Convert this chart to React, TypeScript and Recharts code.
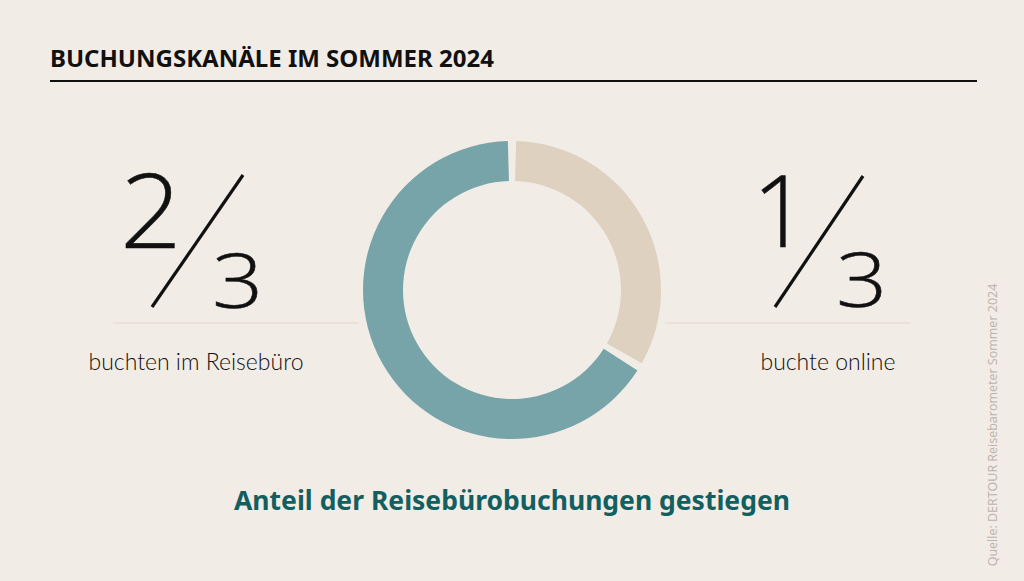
import React from "react";
import { PieChart, Pie, Cell } from "recharts";

const categories = ["buchte online", "buchten im Reisebüro"];
const shareThirds = [1, 2];
const colors = ["#dfd1bf", "#77a4a9"];
const title = "BUCHUNGSKANÄLE IM SOMMER 2024";
const headline = "Anteil der Reisebürobuchungen gestiegen";
const source = "Quelle: DERTOUR Reisebarometer Sommer 2024";

const data = categories.map((name, i) => ({ name, value: shareThirds[i] }));

const BG = "#f1ece6";
const numFont = "'Open Sans', Lato, sans-serif";
const labelFont = "Lato, 'Open Sans', sans-serif";

export default function App() {
  return (
    <div style={{ position: "absolute", left: 0, top: 0, width: 1024, height: 581, background: BG, overflow: "hidden" }}>
      <div style={{ position: "absolute", left: 0, top: 0 }}>
        <PieChart width={1024} height={581} margin={{ top: 0, right: 0, bottom: 0, left: 0 }}>
          <Pie
            data={data}
            dataKey="value"
            nameKey="name"
            cx={512}
            cy={290}
            innerRadius={109}
            outerRadius={149}
            startAngle={88.4}
            endAngle={-271.6}
            paddingAngle={3.2}
            stroke="none"
            isAnimationActive={false}
          >
            {data.map((d, i) => (
              <Cell key={d.name} fill={colors[i]} />
            ))}
          </Pie>
        </PieChart>
      </div>
      <svg width={1024} height={581} style={{ position: "absolute", left: 0, top: 0, pointerEvents: "none" }}>
        <text x={50} y={67} fontFamily="'Noto Sans', sans-serif" fontWeight={700} fontSize={24} fill="#111">
          {title}
        </text>
        <line x1={50} x2={977} y1={81} y2={81} stroke="#111" strokeWidth={2} />

        {/* left fraction */}
        <text transform="translate(120,248) scale(1.05,1)" fontFamily={numFont} fontWeight={300} fontSize={103} fill="#111" stroke="#111" strokeWidth={0.5}>2</text>
        <line x1={243} y1={175} x2={152} y2={307} stroke="#111" strokeWidth={3.2} />
        <text transform="translate(212,308) scale(1.2,1)" fontFamily={numFont} fontWeight={300} fontSize={75} fill="#111" stroke="#111" strokeWidth={0.5}>3</text>
        <line x1={113} x2={358} y1={323} y2={323} stroke="#e2d6c7" strokeWidth={1.2} />
        <text x={196} y={370} textAnchor="middle" fontFamily={labelFont} fontWeight={300} fontSize={23} fill="#111">
          {categories[1]}
        </text>

        {/* right fraction */}
        <text transform="translate(752,247)" fontFamily={numFont} fontWeight={300} fontSize={100} fill="#111" stroke="#111" strokeWidth={0.5}>1</text>
        <line x1={863} y1={176} x2={775} y2={307} stroke="#111" strokeWidth={3.2} />
        <text transform="translate(836,307) scale(1.2,1)" fontFamily={numFont} fontWeight={300} fontSize={75} fill="#111" stroke="#111" strokeWidth={0.5}>3</text>
        <line x1={665} x2={910} y1={323} y2={323} stroke="#e2d6c7" strokeWidth={1.2} />
        <text x={828} y={370} textAnchor="middle" fontFamily={labelFont} fontWeight={300} fontSize={23} fill="#111">
          {categories[0]}
        </text>

        <text x={512} y={510} textAnchor="middle" fontFamily="'Noto Sans', sans-serif" fontWeight={700} fontSize={26.5} fill="#135f60">
          {headline}
        </text>

        <text
          x={0}
          y={0}
          transform="translate(997,425) rotate(-90)"
          textAnchor="middle"
          fontFamily="'Open Sans', sans-serif"
          fontSize={12.5}
          fill="#bbb3ab"
        >
          {source}
        </text>
      </svg>
    </div>
  );
}
